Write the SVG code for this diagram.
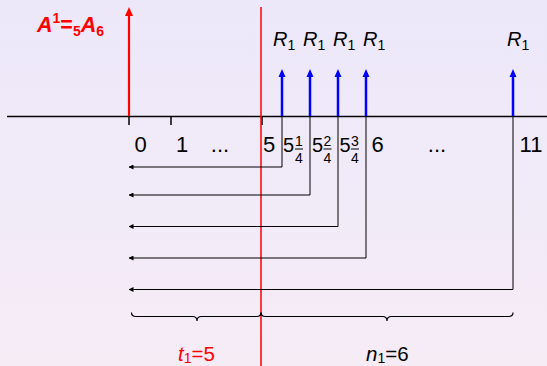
<svg xmlns="http://www.w3.org/2000/svg" width="547" height="366" viewBox="0 0 547 366">
  <defs>
    <linearGradient id="bg" x1="0" y1="0" x2="0" y2="1">
      <stop offset="0" stop-color="#ece8fa"/>
      <stop offset="1" stop-color="#f6ecf6"/>
    </linearGradient>
    <marker id="tipSmall" viewBox="0 0 10 10" refX="9" refY="5" markerWidth="5" markerHeight="5" orient="auto" markerUnits="userSpaceOnUse">
      <path d="M0,0 L10,5 L0,10 Z" fill="#000"/>
    </marker>
  </defs>
  <style>
    text { font-family: "Liberation Sans", Arial, sans-serif; }
    .num { font-size: 22px; fill: #000; text-anchor: middle; }
    .big { font-size: 20px; fill: #000; }
    .frac { font-size: 14px; fill: #000; text-anchor: middle; }
    .bar { stroke: #000; stroke-width: 1; }
    .tick { stroke: #000; stroke-width: 1.5; }
    .conn { fill: none; stroke: #000; stroke-width: 1; marker-end: url(#tipSmall); }
    .pay { stroke: #0000ff; stroke-width: 2.5; }
    .payhead { fill: #0000ff; }
    .rlab { font-size: 20px; font-style: italic; fill: #000; }
    .sub { font-size: 14px; font-style: normal; }
    .brace { fill: none; stroke: #000; stroke-width: 1.2; }
  </style>

  <rect width="547" height="366" fill="url(#bg)"/>

  <!-- time axis with ticks -->
  <g id="axis">
    <line x1="7" y1="116.5" x2="547" y2="116.5" stroke="#000" stroke-width="1.6"/>
    <line class="tick" x1="129" y1="116" x2="129" y2="125"/>
    <line class="tick" x1="171" y1="116" x2="171" y2="125"/>
    <line class="tick" x1="262" y1="116" x2="262" y2="125"/>
  </g>

  <!-- present value arrow at 0 -->
  <g id="pv-arrow">
    <line x1="129" y1="116" x2="129" y2="15" stroke="#ff0000" stroke-width="2.2"/>
    <path d="M129,7 L125,16 L133,16 Z" fill="#ff0000"/>
  </g>

  <!-- deferral boundary -->
  <g id="deferral-line">
    <line x1="261" y1="7" x2="261" y2="366" stroke="#ff0000" stroke-width="1.5"/>
  </g>

  <!-- formula label -->
  <g id="formula">
    <text x="37" y="32" fill="#ff0000" font-size="21.5" font-weight="bold" font-style="italic">A<tspan font-size="14" font-style="normal" dy="-9">1</tspan><tspan font-style="normal" dy="9">=</tspan><tspan font-size="14" font-style="normal" dy="4">5</tspan><tspan dy="-4">A</tspan><tspan font-size="14" font-style="normal" dy="4">6</tspan></text>
  </g>

  <!-- payments -->
  <g id="payments">
    <line class="pay" x1="282" y1="116" x2="282" y2="76"/>
    <path class="payhead" d="M282,69 L278.5,77 L285.5,77 Z"/>
    <line class="pay" x1="310" y1="116" x2="310" y2="76"/>
    <path class="payhead" d="M310,69 L306.5,77 L313.5,77 Z"/>
    <line class="pay" x1="338" y1="116" x2="338" y2="76"/>
    <path class="payhead" d="M338,69 L334.5,77 L341.5,77 Z"/>
    <line class="pay" x1="366" y1="116" x2="366" y2="76"/>
    <path class="payhead" d="M366,69 L362.5,77 L369.5,77 Z"/>
    <line class="pay" x1="513" y1="116" x2="513" y2="76"/>
    <path class="payhead" d="M513,69 L509.5,77 L516.5,77 Z"/>
    <text class="rlab" x="273" y="46">R<tspan class="sub" dy="4">1</tspan></text>
    <text class="rlab" x="303" y="46">R<tspan class="sub" dy="4">1</tspan></text>
    <text class="rlab" x="333" y="46">R<tspan class="sub" dy="4">1</tspan></text>
    <text class="rlab" x="363" y="46">R<tspan class="sub" dy="4">1</tspan></text>
    <text class="rlab" x="507" y="46">R<tspan class="sub" dy="4">1</tspan></text>
  </g>

  <!-- axis labels -->
  <g id="axis-labels">
    <text class="num" x="140.5" y="152">0</text>
    <text class="num" x="182" y="152">1</text>
    <text class="num" x="220" y="152">...</text>
    <text class="num" x="269" y="152">5</text>
    <text class="big" x="283" y="152">5</text>
    <text class="frac" x="299" y="145.5">1</text>
    <line class="bar" x1="295" y1="149" x2="303" y2="149"/>
    <text class="frac" x="299" y="163">4</text>
    <text class="big" x="312" y="152">5</text>
    <text class="frac" x="327.5" y="145.5">2</text>
    <line class="bar" x1="323.5" y1="149" x2="331.5" y2="149"/>
    <text class="frac" x="327.5" y="163">4</text>
    <text class="big" x="339.5" y="152">5</text>
    <text class="frac" x="355" y="145.5">3</text>
    <line class="bar" x1="351" y1="149" x2="359" y2="149"/>
    <text class="frac" x="355" y="163">4</text>
    <text class="num" x="377.5" y="152">6</text>
    <text class="num" x="437" y="152">...</text>
    <text class="num" x="531" y="152">11</text>
  </g>

  <!-- discounting connectors -->
  <g id="connectors">
    <polyline class="conn" points="282,116 282,167 129,167"/>
    <polyline class="conn" points="310,116 310,195 129,195"/>
    <polyline class="conn" points="338,116 338,226.5 129,226.5"/>
    <polyline class="conn" points="366,116 366,258 129,258"/>
    <polyline class="conn" points="513,116 513,289.5 129,289.5"/>
  </g>

  <!-- braces -->
  <g id="brace-deferral">
    <path class="brace" d="M131.5,312.5 Q131.5,316.5 136,316.5 L192.5,316.5 Q197,316.5 197,321 Q197,316.5 201.5,316.5 L256.5,316.5 Q261,316.5 261,312.5"/>
    <text x="178" y="361" font-size="20.5" fill="#ff0000"><tspan font-style="italic">t</tspan><tspan font-size="14" dy="2">1</tspan><tspan dy="-2">=5</tspan></text>
  </g>
  <g id="brace-term">
    <path class="brace" d="M261,312.5 Q261,316.5 265.5,316.5 L382.5,316.5 Q387,316.5 387,321 Q387,316.5 391.5,316.5 L508.5,316.5 Q513,316.5 513,312.5"/>
    <text x="366" y="361" font-size="20.5" fill="#000"><tspan font-style="italic">n</tspan><tspan font-size="14" dy="2">1</tspan><tspan dy="-2">=6</tspan></text>
  </g>
</svg>
